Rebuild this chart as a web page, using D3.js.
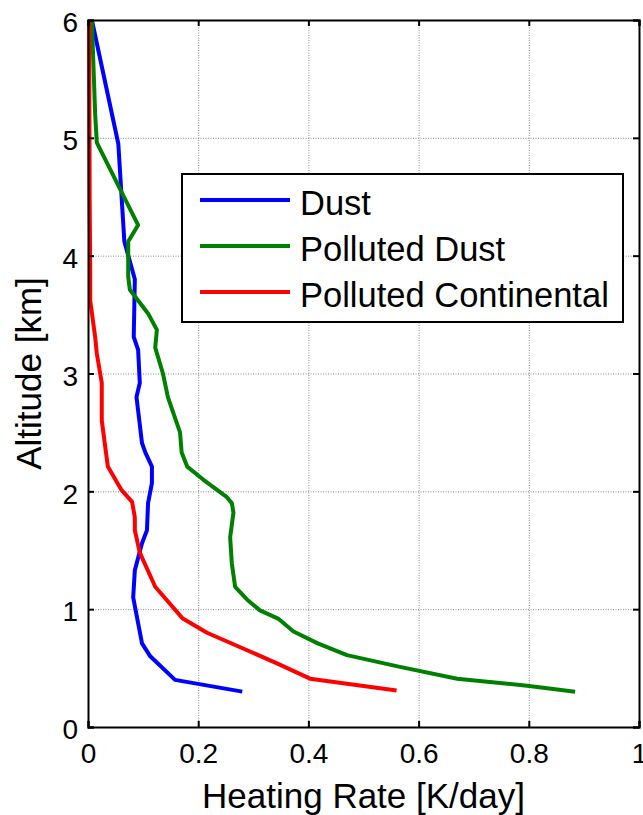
<!DOCTYPE html>
<html>
<head>
<meta charset="utf-8">
<script src="https://cdn.jsdelivr.net/npm/d3@7"></script>
<style>
  html, body { margin: 0; padding: 0; background: #fff; }
  svg { display: block; font-family: "Liberation Sans", Arial, sans-serif; }
</style>
</head>
<body>
<div id="svg-container"></div>
<script>
// data (altitude km, heating rate K/day)
const dustAlt  = [6.0, 4.95, 4.12, 3.8, 3.31, 3.2, 2.92, 2.8, 2.41, 2.33, 2.21, 2.07, 1.9, 1.67, 1.56, 1.33, 1.1, 0.71, 0.6, 0.4, 0.3];
const dustRate = [0.007, 0.055, 0.066, 0.085, 0.083, 0.091, 0.094, 0.088, 0.098, 0.104, 0.116, 0.116, 0.109, 0.107, 0.098, 0.085, 0.082, 0.098, 0.113, 0.158, 0.28];

const pdAlt  = [6.0, 5.2, 4.96, 4.26, 4.12, 3.82, 3.71, 3.51, 3.37, 3.22, 3.0, 2.8, 2.5, 2.33, 2.21, 2.1, 1.95, 1.9, 1.82, 1.61, 1.39, 1.19, 1.08, 0.99, 0.92, 0.81, 0.71, 0.61, 0.51, 0.41, 0.35, 0.3];
const pdRate = [0.007, 0.013, 0.016, 0.091, 0.073, 0.073, 0.076, 0.109, 0.125, 0.122, 0.136, 0.145, 0.167, 0.17, 0.18, 0.209, 0.252, 0.261, 0.264, 0.258, 0.261, 0.267, 0.289, 0.312, 0.345, 0.373, 0.417, 0.47, 0.566, 0.67, 0.797, 0.884];

const pcAlt  = [6.0, 4.5, 3.9, 3.62, 3.31, 3.17, 2.92, 2.6, 2.21, 2.01, 1.91, 1.78, 1.67, 1.48, 1.19, 0.92, 0.8, 0.54, 0.41, 0.31];
const pcRate = [0.002, 0.003, 0.004, 0.004, 0.013, 0.016, 0.025, 0.025, 0.036, 0.061, 0.08, 0.085, 0.085, 0.094, 0.122, 0.172, 0.216, 0.343, 0.403, 0.56];

const seriesNames  = ["Dust", "Polluted Dust", "Polluted Continental"];
const seriesColors = ["#0000ff", "#008000", "#ff0000"];
const xTicks = [0, 0.2, 0.4, 0.6, 0.8, 1];
const yTicks = [0, 1, 2, 3, 4, 5, 6];

const series = [
  { name: seriesNames[0], color: seriesColors[0], pts: dustAlt.map((a, i) => ({ alt: a, rate: dustRate[i] })) },
  { name: seriesNames[1], color: seriesColors[1], pts: pdAlt.map((a, i) => ({ alt: a, rate: pdRate[i] })) },
  { name: seriesNames[2], color: seriesColors[2], pts: pcAlt.map((a, i) => ({ alt: a, rate: pcRate[i] })) }
];

////////////////////////////  Init  ///////////////////////////////
const width = 643, height = 815;
const margin = { top: 20, right: 4, bottom: 88, left: 88 };
const FONT = "Liberation Sans, Arial, sans-serif";

const svg = d3.select("#svg-container").append("svg")
  .attr("width", width).attr("height", height);

const xScale = d3.scaleLinear().domain([0, 1]).range([margin.left, width - margin.right]);
const yScale = d3.scaleLinear().domain([0, 6]).range([height - margin.bottom, margin.top]);

const x0 = xScale(0), x1 = xScale(1), y0 = yScale(0), y1 = yScale(6);

// grid
const grid = svg.append("g").attr("class", "grid")
  .attr("stroke", "#8a8a8a").attr("stroke-width", 1).attr("stroke-dasharray", "1,1.5");
grid.selectAll(".gx").data(xTicks.slice(1, -1)).join("line")
  .attr("x1", (d) => xScale(d) + 0.5).attr("x2", (d) => xScale(d) + 0.5)
  .attr("y1", y1).attr("y2", y0);
grid.selectAll(".gy").data(yTicks.slice(1, -1)).join("line")
  .attr("y1", (d) => yScale(d) + 0.5).attr("y2", (d) => yScale(d) + 0.5)
  .attr("x1", x0).attr("x2", x1);

// lines
const line = d3.line()
  .x((d) => xScale(d.rate))
  .y((d) => yScale(d.alt));

svg.append("g").selectAll("path").data(series).join("path")
  .attr("fill", "none")
  .attr("stroke", (d) => d.color)
  .attr("stroke-width", 4)
  .attr("stroke-linejoin", "round")
  .attr("d", (d) => line(d.pts));

// axes
const xAxis = d3.axisBottom(xScale).tickValues(xTicks).tickSize(-6).tickPadding(16).tickFormat(d3.format("~g"));
const yAxis = d3.axisLeft(yScale).tickValues(yTicks).tickSize(-6).tickPadding(10).tickFormat(d3.format("~g"));

const gx = svg.append("g").attr("transform", `translate(0,${y0})`).call(xAxis);
const gy = svg.append("g").attr("transform", `translate(${x0},0)`).call(yAxis);
svg.append("g").attr("transform", `translate(0,${y1})`)
  .call(d3.axisTop(xScale).tickValues(xTicks).tickSize(-6).tickFormat(""));
svg.append("g").attr("transform", `translate(${x1},0)`)
  .call(d3.axisRight(yScale).tickValues(yTicks).tickSize(-6).tickFormat(""));

svg.selectAll(".domain").attr("stroke", "#000").attr("stroke-width", 2);
svg.selectAll(".tick line").attr("stroke", "#000").attr("stroke-width", 2);
gx.attr("font-size", 28).attr("font-family", FONT);
gy.attr("font-size", 28).attr("font-family", FONT);
gx.selectAll("text").attr("fill", "#000");
gy.selectAll("text").attr("fill", "#000").attr("dy", "0.42em");

// axis titles
svg.append("text")
  .attr("x", (x0 + x1) / 2).attr("y", 808)
  .attr("text-anchor", "middle").attr("font-size", 35).attr("font-family", FONT)
  .text("Heating Rate [K/day]");

svg.append("text")
  .attr("transform", `translate(41,${(y0 + y1) / 2}) rotate(-90)`)
  .attr("text-anchor", "middle").attr("font-size", 35).attr("font-family", FONT)
  .text("Altitude [km]");

// legend
const legend = svg.append("g").attr("transform", "translate(182,174)");
legend.append("rect")
  .attr("width", 441).attr("height", 148)
  .attr("fill", "#fff").attr("stroke", "#000").attr("stroke-width", 2);

const item = legend.selectAll(".item").data(series).join("g")
  .attr("transform", (d, i) => `translate(0,${26 + i * 46})`);
item.append("line")
  .attr("x1", 18).attr("x2", 108)
  .attr("stroke", (d) => d.color).attr("stroke-width", 4);
item.append("text")
  .attr("x", 118).attr("y", 15)
  .attr("font-size", 34.5).attr("font-family", FONT)
  .text((d) => d.name);
</script>
</body>
</html>
